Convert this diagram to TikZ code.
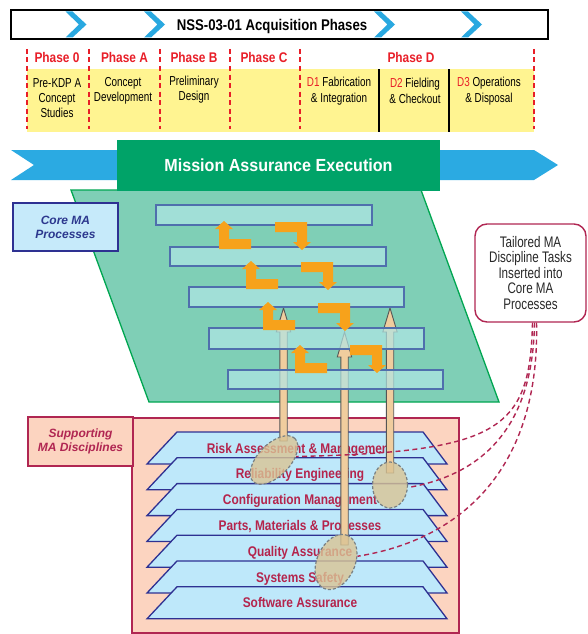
\documentclass[tikz,border=0pt]{standalone}
\usepackage{fontspec}
\setmainfont{Liberation Sans}
\newfontfamily\narrowsf{Liberation Sans}[FakeStretch=0.85]
\newfontfamily\condsf{Liberation Sans}[FakeStretch=0.76]
\newfontfamily\plainsf{Liberation Sans}
\newfontfamily\missionsf{Liberation Sans}[FakeStretch=0.92]
\usetikzlibrary{shapes.geometric}

\definecolor{chevblue}{RGB}{41,168,224}
\definecolor{bandblue}{RGB}{43,170,226}
\definecolor{phasered}{RGB}{232,30,40}
\definecolor{bandyellow}{RGB}{255,244,145}
\definecolor{missiongreen}{RGB}{0,163,104}
\definecolor{planegreen}{RGB}{127,207,182}
\definecolor{planeedge}{RGB}{0,166,81}
\definecolor{barcyan}{RGB}{176,230,230}
\definecolor{baredge}{RGB}{79,111,173}
\definecolor{orangearrow}{RGB}{247,162,27}
\definecolor{tanarrow}{RGB}{240,205,158}
\definecolor{arrowedge}{RGB}{85,85,85}
\definecolor{pinkfill}{RGB}{252,212,192}
\definecolor{crimson}{RGB}{176,38,82}
\definecolor{layerblue}{RGB}{190,232,250}
\definecolor{navy}{RGB}{46,49,146}
\definecolor{coreblue}{RGB}{198,234,250}
\definecolor{coretext}{RGB}{44,56,142}
\definecolor{hotfill}{RGB}{218,196,148}
\definecolor{hotedge}{RGB}{120,128,132}
\definecolor{calltext}{RGB}{40,40,40}
\definecolor{layertext}{RGB}{180,36,76}

% orange turn arrow pointing up: bottom-left corner (#1,#2)
\newcommand\upturn[2]{%
  \fill[orangearrow] (#1,#2) -- ++(32,0) -- ++(0,-10) -- ++(-22,0) -- ++(0,-10)
    -- ++(4,0) -- ++(-9,-8) -- ++(-9,8) -- ++(4,0) -- cycle;}
% orange turn arrow pointing down: top-right corner (#1,#2)
\newcommand\downturn[2]{%
  \fill[orangearrow] (#1,#2) -- ++(-32,0) -- ++(0,10) -- ++(22,0) -- ++(0,10)
    -- ++(-4,0) -- ++(9,8) -- ++(9,-8) -- ++(-4,0) -- cycle;}
% tall block arrow: centre x, tip y, head base y, foot y
\newcommand\bigup[4]{%
  \filldraw[bigarrow] ({#1-3.7},#4) -- ({#1-3.7},#3) -- ({#1-7.2},#3) -- (#1,#2)
    -- ({#1+7.2},#3) -- ({#1+3.7},#3) -- ({#1+3.7},#4) -- cycle;}

\tikzset{
  topbar/.style={draw=black, line width=1.5pt, fill=white, inner sep=0pt},
  titletext/.style={font=\narrowsf\bfseries\fontsize{15.5}{18}\selectfont, inner sep=0pt},
  phaselabel/.style={font=\narrowsf\bfseries\fontsize{14}{16}\selectfont, text=phasered, inner sep=0pt},
  phaseline/.style={draw=phasered, line width=1.8pt, dash pattern=on 5pt off 3.5pt},
  ytext/.style={font=\condsf\fontsize{13}{15.3}\selectfont, align=center, inner sep=0pt},
  missionbox/.style={fill=missiongreen, inner sep=0pt, text=white,
    font=\missionsf\bfseries\fontsize{17.5}{20}\selectfont},
  plane/.style={fill=planegreen, draw=planeedge, line width=1.3pt},
  procbar/.style={fill=barcyan, fill opacity=0.7, draw=baredge, line width=1.2pt},
  bigarrow/.style={fill=tanarrow, draw=arrowedge, line width=0.9pt},
  corebox/.style={fill=coreblue, draw=navy, line width=1.3pt, align=center, inner sep=0pt,
    text=coretext, font=\plainsf\bfseries\itshape\fontsize{12}{14}\selectfont},
  supbox/.style={fill=pinkfill, draw=crimson, line width=1.3pt, align=center, inner sep=0pt,
    text=crimson, font=\plainsf\bfseries\itshape\fontsize{12}{14}\selectfont},
  layer/.style={fill=layerblue, draw=navy, line width=1.3pt},
  layerlabel/.style={font=\narrowsf\bfseries\fontsize{14}{16}\selectfont, text=layertext, inner sep=0pt},
  hot/.style={ellipse, inner sep=0pt, fill=hotfill, fill opacity=0.8, draw=hotedge,
    line width=1.2pt, dash pattern=on 3pt off 2pt},
  callbox/.style={draw=crimson, line width=1.4pt, fill=white, rounded corners=12pt,
    align=center, text=calltext, inner sep=0pt,
    font=\condsf\fontsize{15.3}{15.5}\selectfont},
  tailline/.style={draw=crimson, line width=1.4pt, dash pattern=on 5pt off 3.5pt},
}

\begin{document}
\begin{tikzpicture}[x=1pt,y=-1pt]
\useasboundingbox (0,0) rectangle (587,634);

% ---- acquisition phase banner ----
\node[topbar, minimum width=537pt, minimum height=29pt] (bar) at (279.5,24.5) {};
\foreach \cx in {65.5,144,374,461}
  \fill[chevblue] (\cx,11.5) -- ++(7,0) -- ({\cx+21},24.5) -- ({\cx+7},37.5)
    -- (\cx,37.5) -- ({\cx+13.5},24.5) -- cycle;
\node[titletext, anchor=base] (acq) at (272,30.5) {NSS-03-01 Acquisition Phases};

% ---- phase strip ----
\fill[bandyellow] (27,69) rectangle (534,132);
\draw[line width=1.4pt] (379,69) -- (379,132);
\draw[line width=1.4pt] (449,69) -- (449,132);
\foreach \lx in {27,89,160,230,300,534}
  \draw[phaseline] (\lx,49) -- (\lx,129);

\node[phaselabel, anchor=base] (p0) at (57,63) {Phase 0};
\node[phaselabel, anchor=base] (pa) at (124.5,63) {Phase A};
\node[phaselabel, anchor=base] (pb) at (194,63) {Phase B};
\node[phaselabel, anchor=base] (pc) at (264,63) {Phase C};
\node[phaselabel, anchor=base] (pd) at (411,63) {Phase D};

\node[ytext] (t0) at (57,98) {Pre-KDP A\\Concept\\Studies};
\node[ytext] (ta) at (123,90.5) {Concept\\Development};
\node[ytext] (tb) at (194,89.5) {Preliminary\\Design};
\node[ytext] (td1) at (339,91) {\textcolor{phasered}{D1} Fabrication\\\& Integration};
\node[ytext] (td2) at (415,91) {\textcolor{phasered}{D2} Fielding\\\& Checkout};
\node[ytext] (td3) at (489,91) {\textcolor{phasered}{D3} Operations\\\& Disposal};

% ---- core process plane ----
\draw[plane] (71,190) -- (421,190) -- (499,402) -- (149,402) -- cycle;

% ---- execution band ----
\fill[bandblue] (11,150) -- (534,150) -- (558,165) -- (534,180) -- (11,180) -- (34,165) -- cycle;
\node[missionbox, minimum width=323pt, minimum height=51pt] (mae) at (278.5,165.5)
  {Mission Assurance Execution};

% ---- supporting disciplines ----
\fill[pinkfill] (132,418) rectangle (459,633);
\draw[crimson, line width=1.3pt] (132,418) rectangle (459,633);
\node[supbox, minimum width=105pt, minimum height=49pt] (sup) at (80.5,441.5)
  {Supporting\\MA Disciplines};

\foreach \t in {432,457.8,483.6,509.4,535.2,561,586.8}
  \draw[layer] (177,\t) -- (423,\t) -- (447,{\t+32}) -- (147,{\t+32}) -- cycle;

\node[layerlabel, anchor=base] (l1) at (300,453) {Risk Assessment \& Management};
\node[layerlabel, anchor=base] (l2) at (300,478.8) {Reliability Engineering};
\node[layerlabel, anchor=base] (l3) at (300,504.6) {Configuration Management};
\node[layerlabel, anchor=base] (l4) at (300,530.4) {Parts, Materials \& Processes};
\node[layerlabel, anchor=base] (l5) at (300,556.2) {Quality Assurance};
\node[layerlabel, anchor=base] (l6) at (300,582) {Systems Safety};
\node[layerlabel, anchor=base] (l7) at (300,607.8) {Software Assurance};

% ---- tasks rising into the core processes ----
\bigup{283.5}{308}{332}{441}
\bigup{344.5}{332}{357}{545}
\bigup{390}{308}{332}{473}

\draw[procbar] (156,205) rectangle (372,225);
\draw[procbar] (170,247) rectangle (386,266);
\draw[procbar] (189,287) rectangle (404,307);
\draw[procbar] (209,328) rectangle (424,349);
\draw[procbar] (228,370) rectangle (443,389);

\upturn{219}{249}
\upturn{246}{289}
\upturn{263}{330}
\upturn{295}{373}
\downturn{307}{222}
\downturn{333}{262}
\downturn{350}{303}
\downturn{382}{345}

\node[hot, rotate=46, minimum width=60pt, minimum height=32pt] (e1) at (274,460) {};
\node[hot, minimum width=35pt, minimum height=46pt] (e2) at (390,485) {};
\node[hot, rotate=66, minimum width=58pt, minimum height=38pt] (e3) at (336,562) {};

% ---- labels and callout ----
\node[corebox, minimum width=105pt, minimum height=48pt] (core) at (65.5,227)
  {Core MA\\Processes};

\node[callbox, minimum width=111pt, minimum height=98pt] (tail) at (530.5,273)
  {Tailored MA\\Discipline Tasks\\Inserted into\\Core MA\\Processes};

\draw[tailline] ([xshift=2pt]tail.south) .. controls (530,430) and (500,452) .. (e1.-37);
\draw[tailline] ([xshift=4pt]tail.south) .. controls (533,430) and (480,475) .. (e2.-8);
\draw[tailline] ([xshift=6pt]tail.south) .. controls (540,470) and (460,540) .. (e3.-51);
\end{tikzpicture}
\end{document}
